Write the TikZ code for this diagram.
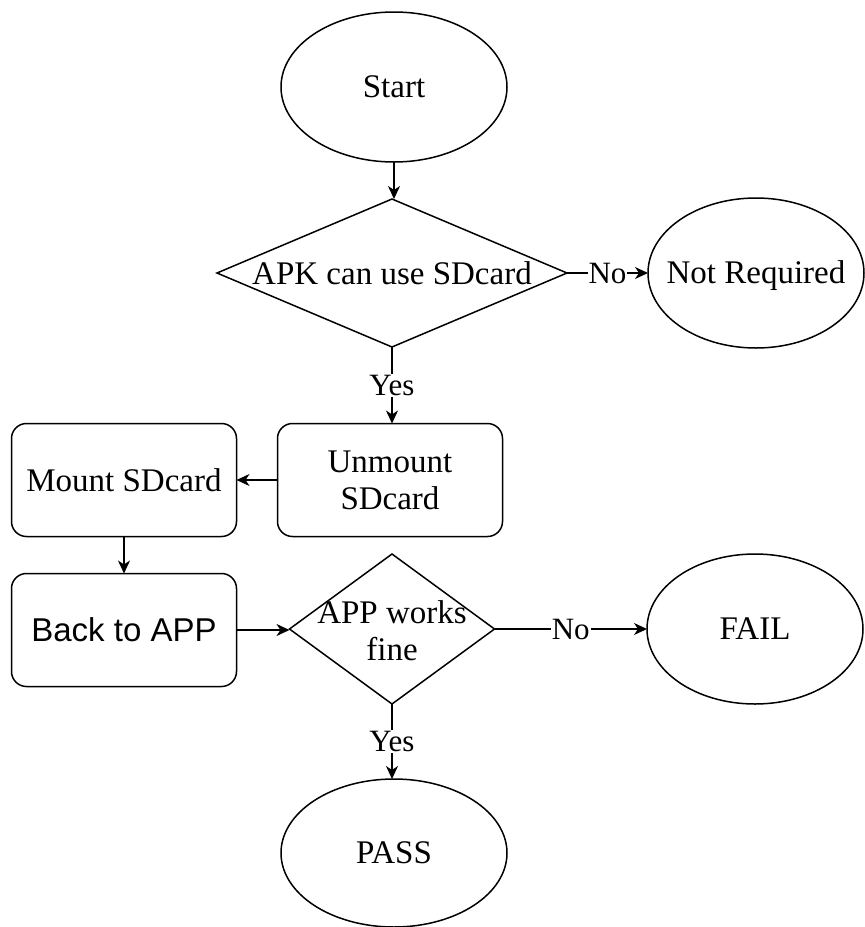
\documentclass[tikz,border=0pt]{standalone}
\usepackage{fontspec}
\setmainfont{Liberation Serif}
\newfontfamily\arialfont{Liberation Sans}
\usetikzlibrary{shapes.geometric,arrows.meta}

\tikzset{
  base/.style={draw=black, line width=1.5pt, inner sep=0pt, outer sep=0pt},
  terminal/.style={base, ellipse, minimum width=#1, minimum height=150pt},
  terminal/.default=226pt,
  decision/.style={base, diamond},
  process/.style={base, rounded corners=15pt, minimum width=225pt, minimum height=113pt,
    align=center, font=\fontsize{33pt}{37pt}\selectfont},
  txt/.style={font=\fontsize{33pt}{37pt}\selectfont, align=center},
  flow/.style={line width=1.5pt, -{Stealth[length=13pt, width=12pt, inset=4pt]}},
  edgelabel/.style={fill=white, inner sep=1pt, font=\fontsize{31pt}{34pt}\selectfont},
}

\begin{document}
\begin{tikzpicture}[x=1pt, y=-1pt]
  \useasboundingbox (0,0) rectangle (865,927);

  % terminals
  \node[terminal, label={[txt]center:Start}] (start) at (394,87) {};
  \node[terminal=216pt, label={[txt, yshift=-3pt]center:Not Required}] (notreq) at (756,273) {};
  \node[terminal=216pt, label={[txt]center:FAIL}] (fail) at (755,629) {};
  \node[terminal, minimum height=148pt, label={[txt]center:PASS}] (pass) at (394,853) {};

  % decisions
  \node[decision, minimum width=350pt, minimum height=148pt,
        label={[txt]center:APK can use SDcard}] (canuse) at (392,273) {};
  \node[decision, minimum width=205pt, minimum height=150pt,
        label={[txt, yshift=-2pt]center:APP works\\fine}] (works) at (392,629) {};

  % process steps
  \node[process] (unmount) at (390,480) {Unmount\\SDcard};
  \node[process] (mount) at (124,480) {Mount SDcard};
  \node[process, font=\arialfont\fontsize{33pt}{37pt}\selectfont] (back) at (124,630) {Back to APP};

  % connectors
  \draw[flow] (start.south) -- (start.south |- canuse.north);
  \draw[flow] (canuse.east) -- node[edgelabel]{No} (notreq.west);
  \draw[flow] (canuse.south) -- node[edgelabel]{Yes} (canuse.south |- unmount.north);
  \draw[flow] (unmount.west) -- (mount.east);
  \draw[flow] (mount.south) -- (back.north);
  \draw[flow] (back.east) -- (back.east -| works.west);
  \draw[flow] (works.east) -- node[edgelabel]{No} (works.east -| fail.west);
  \draw[flow] (works.south) -- node[edgelabel]{Yes} (works.south |- pass.north);
\end{tikzpicture}
\end{document}
